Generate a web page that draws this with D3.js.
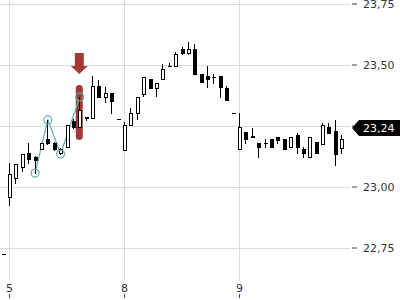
<!DOCTYPE html>
<html><head><meta charset="utf-8">
<script src="https://cdn.jsdelivr.net/npm/d3@7"></script>
<style>
html,body{margin:0;padding:0;background:#fff;}
svg{display:block;font-family:"DejaVu Sans",Verdana,sans-serif;}
</style></head>
<body>
<svg id="c" width="400" height="300"></svg>
<script>
// ---- data ----
// slot index: -1 = last bar of previous session, 0..17 day "5", 18..35 day "8", 36..52 day "9"
const slots = d3.range(-1, 53);
const open  = [22.723,
 22.957,23.035,23.080,23.137,23.121,23.154,23.195,23.178,23.137,23.162,23.268,23.244,23.281,23.281,23.412,23.367,23.383,23.275,
 23.150,23.252,23.301,23.379,23.441,23.404,23.441,23.494,23.494,23.564,23.547,23.564,23.461,23.453,23.449,23.453,23.404,23.301,
 23.154,23.223,23.203,23.178,23.178,23.195,23.203,23.195,23.162,23.211,23.154,23.121,23.182,23.174,23.244,23.227,23.158];
const high  = [22.723,
 23.096,23.092,23.133,23.178,23.125,23.178,23.273,23.182,23.158,23.252,23.277,23.367,23.285,23.453,23.436,23.408,23.383,23.275,
 23.264,23.322,23.367,23.449,23.441,23.424,23.502,23.506,23.551,23.572,23.592,23.584,23.461,23.494,23.461,23.453,23.412,23.301,
 23.301,23.223,23.240,23.178,23.195,23.195,23.203,23.195,23.203,23.219,23.162,23.203,23.182,23.260,23.260,23.273,23.211];
const low   = [22.723,
 22.924,23.014,23.064,23.096,23.055,23.154,23.174,23.150,23.133,23.162,23.240,23.244,23.273,23.281,23.367,23.346,23.301,23.275,
 23.150,23.252,23.277,23.371,23.404,23.371,23.441,23.494,23.494,23.543,23.543,23.461,23.428,23.408,23.424,23.367,23.355,23.301,
 23.154,23.178,23.203,23.121,23.162,23.162,23.178,23.154,23.162,23.137,23.121,23.121,23.137,23.174,23.219,23.088,23.137];
const close = [22.723,
 23.051,23.092,23.133,23.113,23.109,23.178,23.178,23.154,23.154,23.252,23.244,23.314,23.285,23.412,23.367,23.383,23.350,23.275,
 23.252,23.301,23.367,23.449,23.404,23.424,23.482,23.494,23.543,23.547,23.564,23.461,23.428,23.441,23.449,23.408,23.355,23.301,
 23.244,23.195,23.207,23.162,23.178,23.162,23.191,23.154,23.203,23.162,23.137,23.203,23.137,23.252,23.219,23.133,23.195];

const dayLabels = ["5", "8", "9"];
const daySlots  = [0, 18, 36];
const yTicks    = [22.75, 23.00, 23.25, 23.50, 23.75];
const lastPrice = 23.24;

// pattern annotation (slot, price) and highlighted bar
const patternSlots  = [4, 6, 8, 11];
const patternPrices = [23.055, 23.273, 23.133, 23.367];
const highlightSlot = 11;
const highlightRange = [23.191, 23.416];
const arrowTipPrice = 23.461;

// ---- chart ----
const svg = d3.select("#c");
const x = d3.scaleLinear().domain([0, 18]).range([9, 124]);
const y = d3.scaleLinear().domain([22.75, 23.75]).range([247.5, 3.5]);
const loc = d3.formatLocale({decimal: ",", thousands: ".", grouping: [3], currency: ["", "€"]});
const fmt = loc.format(".2f");

// grid
const grid = svg.append("g").attr("shape-rendering", "crispEdges");
grid.selectAll("line.h").data(yTicks).join("line")
  .attr("x1", 0).attr("x2", 350)
  .attr("y1", d => Math.round(y(d)) + 0.5).attr("y2", d => Math.round(y(d)) + 0.5)
  .attr("stroke", "#dcdcdc");
grid.selectAll("line.v").data(daySlots).join("line")
  .attr("x1", d => Math.round(x(d)) + 0.5).attr("x2", d => Math.round(x(d)) + 0.5)
  .attr("y1", 0).attr("y2", 281)
  .attr("stroke", "#dcdcdc");

// y axis (right); the label under the last-price tag is hidden by it
const hidden = d => Math.abs(y(d) - y(lastPrice)) < 12;
const yAxis = d3.axisRight(y).tickValues(yTicks)
  .tickFormat(d => hidden(d) ? "" : fmt(d)).tickSize(5).tickPadding(6);
const ya = svg.append("g").attr("transform", "translate(352,0)").call(yAxis);
ya.select(".domain").remove();
ya.selectAll("line").attr("stroke", "#444");
ya.selectAll("text").attr("fill", "#333").attr("font-size", 11).attr("font-family", "DejaVu Sans, Verdana, sans-serif");

// x axis labels
const xa = svg.append("g");
xa.selectAll("text").data(daySlots).join("text")
  .attr("x", d => Math.round(x(d)) + 0.5).attr("y", 292)
  .attr("text-anchor", "middle").attr("font-size", 11).attr("fill", "#333")
  .text((d, i) => dayLabels[i]);
xa.selectAll("line").data(daySlots).join("line")
  .attr("x1", d => Math.round(x(d)) + 0.5).attr("x2", d => Math.round(x(d)) + 0.5)
  .attr("y1", 294).attr("y2", 298).attr("stroke", "#444");

// highlight bar + arrow
const red = "#a03c35";
const hx = x(highlightSlot);
svg.append("rect")
  .attr("x", hx - 3.5).attr("width", 7)
  .attr("y", y(highlightRange[1])).attr("height", y(highlightRange[0]) - y(highlightRange[1]))
  .attr("rx", 3.5).attr("fill", red);
const tip = y(arrowTipPrice);
svg.append("path")
  .attr("d", `M${hx-4.5},${tip-21} L${hx+4.5},${tip-21} L${hx+4.5},${tip-8} L${hx+8.5},${tip-8} L${hx},${tip} L${hx-8.5},${tip-8} L${hx-4.5},${tip-8} Z`)
  .attr("fill", red);

// pattern
const teal = "#62a9b1";
const pts = patternSlots.map((s, i) => [x(s) + 0.5, y(patternPrices[i])]);
svg.append("path").attr("d", d3.line()(pts)).attr("fill", "none").attr("stroke", teal).attr("stroke-width", 1.2);

// candles
const cg = svg.append("g").attr("shape-rendering", "crispEdges");
slots.forEach((s, i) => {
  const px = Math.round(x(s));
  const o = open[i], h = high[i], l = low[i], c = close[i];
  cg.append("line")
    .attr("x1", px + 0.5).attr("x2", px + 0.5)
    .attr("y1", Math.round(y(h))).attr("y2", Math.round(y(l)) + 1)
    .attr("stroke", "#000");
  const top = Math.round(y(Math.max(o, c)));
  const bot = Math.round(y(Math.min(o, c)));
  if (c > o) {
    cg.append("rect").attr("x", px - 0.5).attr("width", 3)
      .attr("y", top + 0.5).attr("height", Math.max(bot - top, 1))
      .attr("fill", "#fff").attr("stroke", "#000");
  } else if (c < o) {
    cg.append("rect").attr("x", px - 1).attr("width", 4)
      .attr("y", top).attr("height", Math.max(bot - top + 1, 1))
      .attr("fill", "#000");
  } else {
    cg.append("rect").attr("x", px - 1).attr("width", 4)
      .attr("y", top).attr("height", 1).attr("fill", "#000");
  }
});

// pattern circles on top
svg.selectAll("circle.p").data(pts).join("circle")
  .attr("cx", d => d[0]).attr("cy", d => d[1]).attr("r", 4)
  .attr("fill", "none").attr("stroke", teal).attr("stroke-width", 1.2);

// last price tag
const ly = y(lastPrice);
svg.append("path")
  .attr("d", `M352,${ly} L359,${ly-8} L400,${ly-8} L400,${ly+8} L359,${ly+8} Z`)
  .attr("fill", "#000");
svg.append("text").attr("x", 363).attr("y", ly).attr("dy", "0.35em")
  .attr("font-size", 11).attr("fill", "#fff").text(fmt(lastPrice));
</script>
</body></html>
